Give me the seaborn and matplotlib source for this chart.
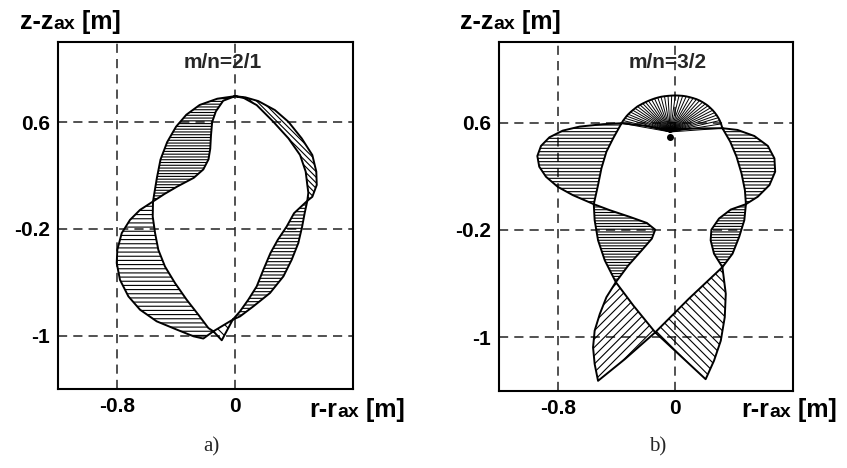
import matplotlib
matplotlib.use("Agg")
import matplotlib.pyplot as plt
import seaborn as sns
import pandas as pd
from matplotlib.offsetbox import TextArea, HPacker, AnnotationBbox

sns.set_theme(style="white")
plt.rcParams["font.family"] = ["Liberation Sans", "DejaVu Sans"]
plt.rcParams["hatch.linewidth"] = 0.8

# ---------------- data (r - r_ax, z - z_ax) in metres ----------------
x_ticks = [-0.8, 0.0]
x_tick_labels = ["-0.8", "0"]
y_ticks = [0.6, -0.2, -1.0]
y_tick_labels = ["0.6", "-0.2", "-1"]

# panel a) m/n = 2/1 : lobes between boundary and perturbed boundary
a_upper_left = [(0.0, 0.794), (-0.12, 0.775), (-0.24, 0.728), (-0.33, 0.655), (-0.40, 0.565),
                (-0.46, 0.45), (-0.505, 0.32), (-0.53, 0.18), (-0.548, 0.06), (-0.556, 0.005),
                (-0.48, 0.06), (-0.39, 0.118), (-0.28, 0.182), (-0.215, 0.245), (-0.18, 0.32),
                (-0.168, 0.40), (-0.163, 0.50), (-0.155, 0.60), (-0.13, 0.68), (-0.08, 0.76)]
a_lower_left = [(-0.556, 0.005), (-0.644, -0.058), (-0.712, -0.133), (-0.768, -0.232),
                (-0.798, -0.357), (-0.802, -0.457), (-0.780, -0.582), (-0.723, -0.706),
                (-0.644, -0.806), (-0.531, -0.893), (-0.395, -0.955), (-0.282, -1.005),
                (-0.215, -1.022), (-0.147, -0.968), (-0.181, -0.943), (-0.249, -0.843),
                (-0.328, -0.731), (-0.407, -0.606), (-0.475, -0.482), (-0.520, -0.357),
                (-0.542, -0.232), (-0.558, -0.108)]
a_bottom = [(-0.147, -0.968), (-0.090, -1.035), (-0.015, -0.880)]
a_lower_right = [(-0.015, -0.880), (0.034, -0.856), (0.124, -0.781), (0.237, -0.681),
                 (0.328, -0.556), (0.384, -0.432), (0.429, -0.307), (0.455, -0.183),
                 (0.472, -0.083), (0.49, 0.01), (0.40, -0.083), (0.35, -0.183), (0.29, -0.282),
                 (0.24, -0.382), (0.192, -0.507), (0.147, -0.631), (0.090, -0.731), (0.034, -0.818)]
a_upper_right = [(0.0, 0.794), (0.07, 0.785), (0.158, 0.757), (0.27, 0.69), (0.362, 0.602),
                 (0.452, 0.478), (0.524, 0.353), (0.551, 0.229), (0.554, 0.129), (0.524, 0.04),
                 (0.49, 0.01), (0.497, 0.07), (0.490, 0.129), (0.479, 0.229), (0.441, 0.353),
                 (0.362, 0.478), (0.260, 0.602), (0.147, 0.727), (0.06, 0.78)]

# panel b) m/n = 3/2
b_top_arc = [(-0.366, 0.595), (-0.355, 0.615), (-0.343, 0.632), (-0.332, 0.648), (-0.320, 0.662),
             (-0.305, 0.678), (-0.290, 0.692), (-0.274, 0.706), (-0.258, 0.720), (-0.240, 0.731),
             (-0.222, 0.742), (-0.203, 0.752), (-0.183, 0.762), (-0.162, 0.771), (-0.142, 0.779),
             (-0.120, 0.786), (-0.098, 0.792), (-0.074, 0.796), (-0.050, 0.799), (-0.025, 0.801),
             (0.000, 0.802), (0.025, 0.801), (0.050, 0.799), (0.074, 0.795), (0.098, 0.789),
             (0.121, 0.782), (0.144, 0.774), (0.165, 0.764), (0.185, 0.752), (0.204, 0.739),
             (0.222, 0.725), (0.238, 0.709), (0.254, 0.692), (0.268, 0.674), (0.281, 0.655),
             (0.292, 0.636), (0.302, 0.615), (0.311, 0.590), (0.320, 0.558)]
b_top_inner = [(0.320, 0.558), (0.15, 0.556), (0.01, 0.55), (-0.035, 0.53), (-0.08, 0.55),
               (-0.2, 0.575), (-0.366, 0.595)]
b_fan_focus = (-0.035, 0.53)
b_fan_dot = (-0.035, 0.495)
b_upper_left = [(-0.366, 0.595), (-0.491, 0.588), (-0.651, 0.570), (-0.766, 0.540), (-0.857, 0.490),
                (-0.914, 0.426), (-0.939, 0.351), (-0.926, 0.271), (-0.880, 0.196), (-0.800, 0.121),
                (-0.697, 0.059), (-0.555, -0.008), (-0.526, 0.134), (-0.503, 0.259),
                (-0.469, 0.383), (-0.423, 0.483)]
b_mid_left = [(-0.555, -0.008), (-0.446, -0.053), (-0.309, -0.103), (-0.194, -0.148),
              (-0.137, -0.198), (-0.160, -0.265), (-0.229, -0.352), (-0.320, -0.464),
              (-0.405, -0.589), (-0.48, -0.427), (-0.526, -0.277), (-0.549, -0.128)]
b_bottom_left = [(-0.405, -0.589), (-0.469, -0.701), (-0.514, -0.826), (-0.549, -0.950),
                 (-0.560, -1.075), (-0.549, -1.199), (-0.526, -1.324), (-0.343, -1.162),
                 (-0.137, -0.963), (-0.286, -0.763)]
b_bottom_right = [(-0.137, -0.963), (0.206, -1.312), (0.263, -1.174), (0.309, -1.025),
                  (0.336, -0.850), (0.343, -0.676), (0.320, -0.477), (0.091, -0.713)]
b_mid_right = [(0.480, -0.008), (0.377, -0.048), (0.297, -0.115), (0.245, -0.198), (0.240, -0.277),
               (0.263, -0.377), (0.320, -0.477), (0.389, -0.377), (0.434, -0.252), (0.469, -0.128)]
b_upper_right = [(0.320, 0.558), (0.423, 0.545), (0.537, 0.500), (0.629, 0.426), (0.674, 0.333),
                 (0.679, 0.234), (0.640, 0.134), (0.560, 0.047), (0.480, -0.008), (0.473, 0.097),
                 (0.450, 0.221), (0.416, 0.346), (0.373, 0.458)]


def draw_lobe(ax, pts, hatch=None):
    df = pd.DataFrame(pts + pts[:1], columns=["r", "z"])
    if hatch:
        ax.fill(df["r"], df["z"], facecolor="none", edgecolor="black", linewidth=0, hatch=hatch)
    sns.lineplot(data=df, x="r", y="z", sort=False, estimator=None, color="black",
                 linewidth=1.4, ax=ax)


def setup(ax, title, tx):
    ax.set_xlim(-1.2, 0.8)
    ax.set_ylim(-1.4, 1.2)
    ax.set_xticks(x_ticks)
    ax.set_xticklabels(x_tick_labels, fontweight="bold")
    ax.set_yticks(y_ticks)
    ax.set_yticklabels(y_tick_labels, fontweight="bold")
    ax.tick_params(length=0, pad=6, labelsize=15, colors="black")
    ax.set_xlabel("")
    ax.set_ylabel("")
    for s in ax.spines.values():
        s.set_visible(True)
        s.set_linewidth(1.5)
        s.set_color("black")
    for x in x_ticks:
        ax.axvline(x, color="#222222", lw=1.1, dashes=(6, 4), zorder=0)
    for y in y_ticks:
        ax.axhline(y, color="#222222", lw=1.1, dashes=(6, 4), zorder=0)
    ax.text(tx, 1.05, title, ha="center", va="center", fontsize=15, fontweight="bold")


def axis_label(fig, main, x, y, align):
    bold = dict(fontweight="bold", color="black")
    parts = [TextArea(main, textprops=dict(fontsize=18, **bold)),
             TextArea("ax", textprops=dict(fontsize=14, **bold)),
             TextArea(" [m]", textprops=dict(fontsize=18, **bold))]
    box = HPacker(children=parts, align="baseline", pad=0, sep=0)
    ab = AnnotationBbox(box, (x, y), xycoords="figure pixels", box_alignment=(align, 0),
                        frameon=False, pad=0)
    fig.add_artist(ab)


fig = plt.figure(figsize=(8.47, 4.68), dpi=100)
ax_a = fig.add_axes([0.0685, 0.1688, 0.3483, 0.7415])
ax_b = fig.add_axes([0.5891, 0.1645, 0.3471, 0.7457])

# panel a
draw_lobe(ax_a, a_upper_left, "------")
draw_lobe(ax_a, a_lower_left, "----")
draw_lobe(ax_a, a_bottom, "\\\\\\")
draw_lobe(ax_a, a_lower_right, "-----")
draw_lobe(ax_a, a_upper_right, "\\\\\\\\\\\\")
setup(ax_a, "m/n=2/1", -0.08)

# panel b
draw_lobe(ax_b, b_top_arc + b_top_inner[1:-1])
for r, z in b_top_arc:
    ax_b.plot([b_fan_focus[0], r], [b_fan_focus[1], z], color="black", lw=0.7)
ax_b.plot([b_fan_dot[0]], [b_fan_dot[1]], "o", color="black", ms=4)
draw_lobe(ax_b, b_upper_left, "-----")
draw_lobe(ax_b, b_mid_left, "------")
draw_lobe(ax_b, b_bottom_left, "////")
draw_lobe(ax_b, b_bottom_right, "\\\\\\\\")
draw_lobe(ax_b, b_mid_right, "------")
draw_lobe(ax_b, b_upper_right, "-----")
setup(ax_b, "m/n=3/2", -0.05)

axis_label(fig, "z-z", 20, 468 - 34, 0)
axis_label(fig, "r-r", 405, 468 - 422, 1)
axis_label(fig, "z-z", 460, 468 - 34, 0)
axis_label(fig, "r-r", 837, 468 - 422, 1)

fig.text(211 / 847, 1 - 447 / 468, "a)", ha="center", va="center", fontsize=15,
         family="Liberation Serif")
fig.text(658 / 847, 1 - 447 / 468, "b)", ha="center", va="center", fontsize=15,
         family="Liberation Serif")

fig.savefig("out.png", dpi=100)
